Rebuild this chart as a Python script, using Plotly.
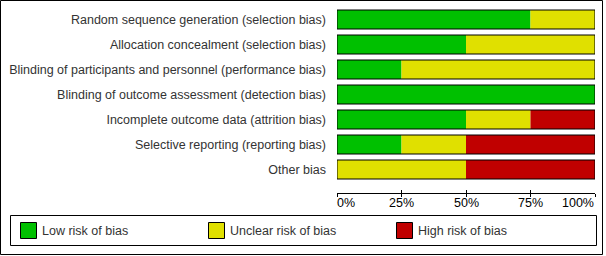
import plotly.graph_objects as go

# ---- data ----
domains = [
    "Random sequence generation (selection bias)",
    "Allocation concealment (selection bias)",
    "Blinding of participants and personnel (performance bias)",
    "Blinding of outcome assessment (detection bias)",
    "Incomplete outcome data (attrition bias)",
    "Selective reporting (reporting bias)",
    "Other bias",
]
low_risk = [75, 50, 25, 100, 50, 25, 0]
unclear_risk = [25, 50, 75, 0, 25, 25, 50]
high_risk = [0, 0, 0, 0, 25, 50, 50]

series_names = ["Low risk of bias", "Unclear risk of bias", "High risk of bias"]
series_colors = ["#00C000", "#E0E000", "#C00000"]

tick_vals = [0, 25, 50, 75, 100]
tick_text = ["0%", "25%", "50%", "75%", "100%"]

# ---- geometry helpers (pixel -> paper) ----
W, H = 606, 256
def px(x):
    return x / W
def py(y):
    return 1 - y / H

FONT = "Liberation Sans, Arial, sans-serif"
FS = 12.5
TEXT_COLOR = "#333333"

fig = go.Figure()

series = [low_risk, unclear_risk, high_risk]
base = [0] * len(domains)
for vals, name, color in zip(series, series_names, series_colors):
    fig.add_trace(go.Bar(
        y=domains, x=vals, base=list(base), orientation="h", name=name,
        marker=dict(color=color, line=dict(width=0)),
        showlegend=False, hoverinfo="name+x",
    ))
    base = [b + v for b, v in zip(base, vals)]

# outline of each whole bar
fig.add_trace(go.Bar(
    y=domains, x=base, base=[0] * len(domains), orientation="h",
    marker=dict(color="rgba(0,0,0,0)", line=dict(width=1, color="black")),
    showlegend=False, hoverinfo="skip",
))

fig.update_layout(
    width=W, height=H,
    margin=dict(l=0, r=0, t=0, b=0),
    paper_bgcolor="white", plot_bgcolor="white",
    barmode="overlay", bargap=0.24,
    font=dict(family=FONT, size=FS, color=TEXT_COLOR),
    showlegend=False,
    xaxis=dict(
        domain=[px(337), px(595)], range=[0, 100],
        anchor="free", position=py(193),
        showgrid=False, zeroline=False,
        showline=True, linecolor="black", linewidth=1,
        ticks="outside", ticklen=3, tickcolor="black",
        tickvals=tick_vals, showticklabels=False,
    ),
    xaxis2=dict(
        domain=[px(337), px(595)], range=[0, 100], overlaying="x",
        anchor="free", position=py(193), side="bottom",
        showgrid=False, zeroline=False, showline=False,
        ticks="inside", ticklen=3, tickcolor="black",
        tickvals=tick_vals, showticklabels=False,
    ),
    yaxis=dict(
        domain=[py(182), py(7)],
        categoryorder="array", categoryarray=domains,
        autorange="reversed",
        showgrid=False, zeroline=False, showline=False,
        ticks="", ticklabelstandoff=10,
        tickfont=dict(family=FONT, size=FS, color=TEXT_COLOR),
    ),
)

# dummy trace to activate xaxis2
fig.add_trace(go.Scatter(x=[None], y=[None], xaxis="x2", showlegend=False, hoverinfo="skip"))

# x tick labels: first left-aligned, last right-aligned
for i, (v, t) in enumerate(zip(tick_vals, tick_text)):
    anchor = "left" if i == 0 else ("right" if i == len(tick_vals) - 1 else "center")
    fig.add_annotation(
        x=v, xref="x", y=py(203), yref="paper", text=t, showarrow=False,
        xanchor=anchor, yanchor="middle",
        xshift=(-2 if i == 0 else (1 if i == len(tick_vals) - 1 else 0)),
        font=dict(family=FONT, size=FS, color="black"),
    )

shapes = []
# outer frame
shapes.append(dict(type="rect", xref="paper", yref="paper",
                   x0=px(0.5), x1=px(602.5), y0=py(0.5), y1=py(254.5),
                   line=dict(color="black", width=1)))
# legend box
shapes.append(dict(type="rect", xref="paper", yref="paper",
                   x0=px(10.5), x1=px(596.5), y0=py(215.5), y1=py(245.5),
                   line=dict(color="black", width=1)))
# legend entries
for k, (name, color) in enumerate(zip(series_names, series_colors)):
    x0 = 20.5 + 188 * k
    shapes.append(dict(type="rect", xref="paper", yref="paper",
                       x0=px(x0), x1=px(x0 + 16), y0=py(222.5), y1=py(238.5),
                       fillcolor=color, line=dict(color="black", width=1)))
    fig.add_annotation(
        x=px(x0 + 19.5), xref="paper", y=py(230.5), yref="paper", text=name,
        showarrow=False, xanchor="left", yanchor="middle",
        font=dict(family=FONT, size=FS, color=TEXT_COLOR),
    )

fig.update_layout(shapes=shapes)
fig.write_html(
    "out.html",
    config={"displayModeBar": False},
    post_script="document.body.style.margin='0';document.body.style.overflow='hidden';",
)
